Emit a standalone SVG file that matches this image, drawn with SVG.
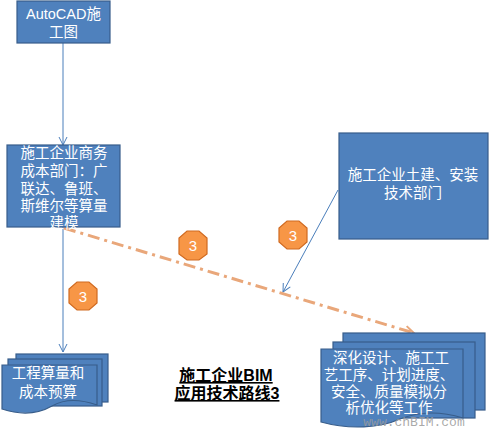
<svg xmlns="http://www.w3.org/2000/svg" width="490" height="433" viewBox="0 0 490 433">
<style>
.box{fill:#4F81BD;stroke:#385D8A;stroke-width:1.2}
.t{font-family:"Liberation Sans","Noto Sans CJK SC",sans-serif;fill:#fff;font-size:14.5px;text-anchor:middle}
.c{fill:none;stroke:#4A7EBB;stroke-width:1}
.badge{fill:#F79646;stroke:#D06A20;stroke-width:1.2}
.bt{font-family:"Liberation Sans",sans-serif;fill:#fff;font-size:15px;text-anchor:middle}
.title{font-family:"Liberation Sans","Noto Sans CJK SC",sans-serif;fill:#000;font-size:16px;font-weight:bold;text-anchor:middle;text-decoration:underline}
</style>
<defs>
<marker id="ab" markerWidth="10" markerHeight="10" refX="9" refY="5" orient="auto" markerUnits="userSpaceOnUse">
<path d="M1,1 L9,5 L1,9" fill="none" stroke="#4A7EBB" stroke-width="1"/>
</marker>
<marker id="ao" markerWidth="12" markerHeight="12" refX="10" refY="6" orient="auto" markerUnits="userSpaceOnUse">
<path d="M1,1.5 L10,6 L1,10.5" fill="none" stroke="#E9A77A" stroke-width="2"/>
</marker>
</defs>
<rect width="490" height="433" fill="#fff"/>
<g id="connectors">
<line class="c" x1="63" y1="43" x2="63" y2="145" marker-end="url(#ab)"/>
<line class="c" x1="63" y1="227" x2="63" y2="352" marker-end="url(#ab)"/>
<line class="c" x1="338" y1="190" x2="283" y2="292" marker-end="url(#ab)"/>
<line x1="64" y1="228" x2="414" y2="333" stroke="#E9A77A" stroke-width="3" stroke-dasharray="12 5 3 5" marker-end="url(#ao)"/>
</g>
<g id="n1">
<rect class="box" x="17" y="1" width="93" height="42"/>
<text class="t" x="63.5" y="19" font-size="14">AutoCAD施</text>
<text class="t" x="63.5" y="37">工图</text>
</g>
<g id="n2">
<rect class="box" x="7" y="145" width="113" height="82"/>
<text class="t" x="64" y="158" font-size="14">施工企业商务</text>
<text class="t" x="64" y="176" font-size="14">成本部门：广</text>
<text class="t" x="64" y="194" font-size="14">联达、鲁班、</text>
<text class="t" x="64" y="211" font-size="14">斯维尔等算量</text>
<text class="t" x="64" y="228" font-size="14">建模</text>
</g>
<g id="n3">
<rect class="box" x="339" y="133" width="149" height="106"/>
<text class="t" x="413" y="180">施工企业土建、安装</text>
<text class="t" x="413" y="198">技术部门</text>
</g>
<g id="n4">
<rect class="box" x="16" y="354" width="92" height="48"/>
<rect class="box" x="8" y="359" width="94" height="47"/>
<path class="box" d="M2,365 H97 V405 C80,399 64,399 52,406 C38,414 20,415 2,409 Z"/>
<text class="t" x="48" y="378">工程算量和</text>
<text class="t" x="48" y="397">成本预算</text>
</g>
<g id="n5">
<rect class="box" x="343" y="333" width="142" height="77"/>
<rect class="box" x="333" y="342" width="142" height="76"/>
<path class="box" d="M321,349 H463 V418 C440,411 420,411 400,419 C380,428 350,430 321,422 Z"/>
<text class="t" x="391" y="363">深化设计、施工工</text>
<text class="t" x="389" y="380">艺工序、计划进度、</text>
<text class="t" x="389" y="397">安全、质量模拟分</text>
<text class="t" x="389" y="413">析优化等工作</text>
</g>
<g id="badges">
<polygon class="badge" points="187,231 199,231 207,238 207,254 199,260 187,260 179,254 179,238"/>
<text class="bt" x="193" y="251">3</text>
<polygon class="badge" points="287,221 299,221 307,228 307,242 299,249 287,249 279,242 279,228"/>
<text class="bt" x="293" y="241">3</text>
<polygon class="badge" points="77,282 89,282 97,289 97,303 89,310 77,310 69,303 69,289"/>
<text class="bt" x="83" y="302">3</text>
</g>
<g id="title">
<text class="title" x="226" y="381">施工企业BIM</text>
<text class="title" x="227" y="399">应用技术路线3</text>
</g>
<text x="414" y="426" font-family="Liberation Mono,monospace" font-size="13" fill="#9a9a9a" fill-opacity="0.85" text-anchor="middle">www.chBIM.com</text>
</svg>
